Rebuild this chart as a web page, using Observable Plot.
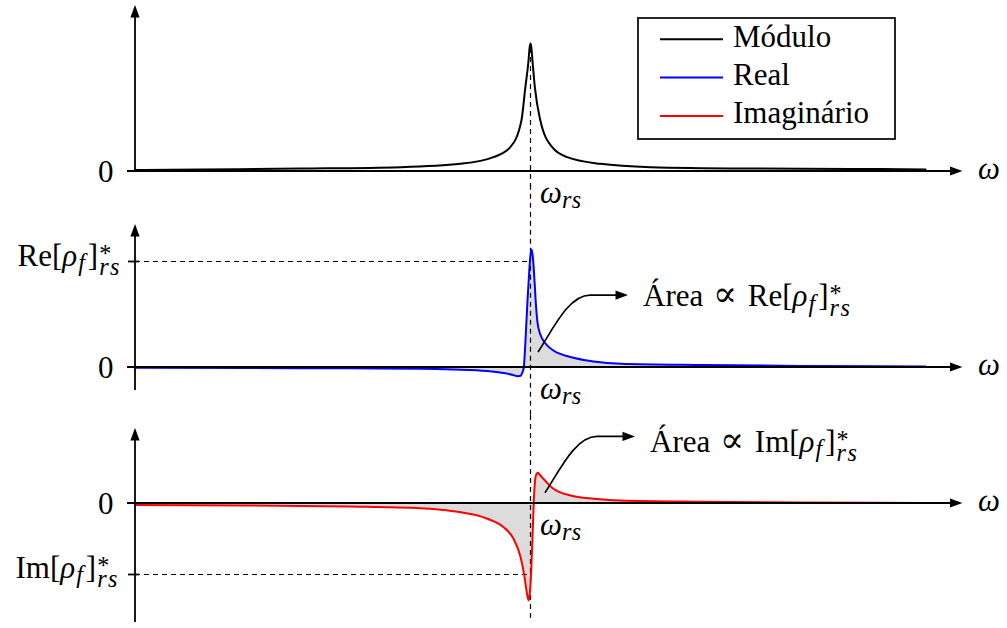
<!DOCTYPE html>
<html>
<head>
<meta charset="utf-8">
<script src="https://cdn.jsdelivr.net/npm/d3@7"></script>
<script src="https://cdn.jsdelivr.net/npm/@observablehq/plot@0.6"></script>
<style>
  html, body { margin: 0; padding: 0; background: #fff; }
  #chart { position: relative; width: 1007px; height: 628px; overflow: hidden; }
  #chart > svg { position: absolute; left: 0; top: 0; }
</style>
</head>
<body>
<div id="chart"></div>
<script>
// ---- data: frequency ω in units of ω_rs (so ω_rs = 1) ----
const omegaMod = [0, 0.165, 0.418, 0.671, 0.823, 0.906, 0.949, 0.977, 0.987, 0.995, 0.9975, 1.0, 1.0025, 1.005, 1.011, 1.025, 1.055, 1.093, 1.177, 1.304, 1.557, 1.810, 2.0];
const modulo   = [0.012, 0.016, 0.023, 0.034, 0.060, 0.112, 0.190, 0.398, 0.659, 0.867, 0.961, 1.0, 0.961, 0.867, 0.659, 0.398, 0.190, 0.112, 0.060, 0.034, 0.023, 0.020, 0.016];

const omegaRe = [0, 0.291, 0.544, 0.722, 0.805, 0.891, 0.932, 0.954, 0.968, 0.975, 0.979, 0.9830, 0.9873, 0.9924, 0.9962, 0.9995, 1.0025, 1.0063, 1.0101, 1.0139, 1.0177, 1.025, 1.038, 1.058, 1.101, 1.160, 1.228, 1.430, 1.684, 2.0];
const real    = [-0.002, -0.005, -0.008, -0.012, -0.019, -0.033, -0.052, -0.069, -0.082, -0.078, -0.052, 0, 0.255, 0.632, 0.868, 1.047, 1.113, 1.028, 0.821, 0.585, 0.425, 0.311, 0.226, 0.160, 0.099, 0.057, 0.035, 0.023, 0.015, 0.010];

const omegaIm = [0, 0.291, 0.544, 0.722, 0.805, 0.891, 0.932, 0.957, 0.975, 0.985, 0.991, 0.9954, 0.9987, 1.0018, 1.0051, 1.0081, 1.0114, 1.0152, 1.0185, 1.0228, 1.033, 1.058, 1.101, 1.160, 1.228, 1.430, 1.684, 2.0];
const imag    = [-0.021, -0.028, -0.042, -0.066, -0.108, -0.215, -0.334, -0.497, -0.756, -1.038, -1.268, -1.366, -1.239, -0.944, -0.479, 0, 0.310, 0.415, 0.432, 0.408, 0.345, 0.207, 0.113, 0.066, 0.042, 0.024, 0.014, 0.007];

const omegaRs = 1;       // resonance frequency ω_rs
const reLevel = 1;       // Re[ρ_f]*_rs
const imLevel = -1;      // Im[ρ_f]*_rs

const legendNames  = ["Módulo", "Real", "Imaginário"];
const legendColors = ["#000000", "#0000ff", "#ff0000"];

// ---- layout ----
const W = 1007, H = 628;
const X0 = 135, XU = 395;                 // pixel of ω = 0, pixels per ω_rs
const P1 = {zero: 171, unit: 128};        // módulo panel
const P2 = {zero: 367, unit: 106};        // real panel
const P3 = {zero: 503, unit: 71};         // imaginary panel
const SERIF = "'Liberation Serif', 'DejaVu Serif', serif";
const FS = 31;
const axisX = [-0.0203, 2.0949];

const toRows = (xs, ys) => xs.map((w, i) => ({w, v: ys[i]}));
const modData = toRows(omegaMod, modulo);
const reData = toRows(omegaRe, real);
const imData = toRows(omegaIm, imag);

// ---- small math-text typesetter (measures with canvas, places tspans) ----
const ctx = document.createElement("canvas").getContext("2d");
function measure(s, size, italic, spacing = 0) {
  ctx.font = `${italic ? "italic " : ""}${size}px ${SERIF}`;
  return ctx.measureText(s).width + spacing * s.length;
}
function typeset(tokens, size) {
  let x = 0, stackX = null;
  const items = [];
  for (const tk of tokens) {
    const fs = (tk.s ? size * 0.78 : size) * (tk.scale ?? 1);
    const ls = tk.ls ?? 0;
    const w = measure(tk.t, fs, tk.f === "it", ls) + (tk.gap ?? 0);
    const dy = tk.s === "sub" ? (tk.low ?? 0.15) * size : tk.s === "sup" ? -0.13 * size : 0;
    if (tk.s === "sup" && stackX != null) {
      items.push({...tk, x: stackX, dy, fs, ls});
      x = Math.max(x, stackX + w);
      stackX = null;
      continue;
    }
    items.push({...tk, x, dy, fs, ls});
    if (tk.stack) stackX = x;
    x += w;
  }
  return {items, width: x};
}
function mathLabel(xv, yv, tokens, {anchor = "start", dx = 0, dy = 0, size = FS} = {}) {
  return (index, {x, y}) => {
    const {items, width} = typeset(tokens, size);
    const x0 = x(xv) + dx - (anchor === "end" ? width : 0);
    const y0 = y(yv) + dy;
    const text = d3.create("svg:text")
      .attr("font-family", SERIF).attr("text-anchor", "start").attr("fill", "black");
    for (const it of items) {
      text.append("tspan")
        .attr("x", x0 + it.x).attr("y", y0 + it.dy)
        .attr("font-size", it.fs)
        .attr("font-style", it.f === "it" ? "italic" : "normal")
        .attr("letter-spacing", it.ls || null)
        .text(it.t);
    }
    return text.node();
  };
}

// filled arrow tip
function tip(g, px, py, angle) {
  g.append("path")
    .attr("d", "M0,0L-12.5,-4.6L-12.5,4.6Z")
    .attr("transform", `translate(${px},${py}) rotate(${angle * 180 / Math.PI})`)
    .attr("fill", "black");
}
// axis line ending in an arrow tip
function arrowAxis(x1, y1, x2, y2) {
  return (index, {x, y}) => {
    const ax = x(x1), ay = y(y1), bx = x(x2), by = y(y2);
    const ang = Math.atan2(by - ay, bx - ax);
    const g = d3.create("svg:g");
    g.append("line")
      .attr("x1", ax).attr("y1", ay)
      .attr("x2", bx - Math.cos(ang) * 10).attr("y2", by - Math.sin(ang) * 10)
      .attr("stroke", "black").attr("stroke-width", 1.8);
    tip(g, bx, by, ang);
    return g.node();
  };
}
// curved leader from the shaded area to its annotation
function leader(from, bendW, to) {
  return (index, {x, y}) => {
    const sx = x(from[0]), sy = y(from[1]);
    const ex = x(bendW), ty = y(to[1]), tx = x(to[0]);
    const g = d3.create("svg:g");
    g.append("path")
      .attr("d", `M${sx},${sy}C${sx + 14},${sy - 21} ${ex - 22},${ty} ${ex},${ty}L${tx - 10},${ty}`)
      .attr("fill", "none").attr("stroke", "black").attr("stroke-width", 1.7);
    tip(g, tx, ty, 0);
    return g.node();
  };
}

const bracketTokens = name => [
  {t: name + "[", f: "rm"}, {t: "ρ", f: "it", gap: 1}, {t: "f", f: "it", s: "sub", low: 0.17, gap: 3},
  {t: "]", f: "rm", gap: 1}, {t: "rs", f: "it", s: "sub", low: 0.3, ls: 1.5, stack: true}, {t: "*", f: "rm", s: "sup"}
];
const reTokens = bracketTokens("Re");
const imTokens = bracketTokens("Im");
const omegaTokens = [{t: "ω", f: "it"}];
const omegaRsTokens = [{t: "ω", f: "it"}, {t: "rs", f: "it", s: "sub", ls: 0.5}];
const propTokens = [{t: "Área ", f: "rm", gap: 2}, {t: "∝", f: "rm", scale: 1.15}, {t: " ", f: "rm", gap: 3}];
const areaRe = [...propTokens, ...reTokens];
const areaIm = [...propTokens, ...imTokens];

function panel(p, marks) {
  return Plot.plot({
    width: W, height: H, margin: 0,
    x: {domain: [-X0 / XU, (W - X0) / XU], range: [0, W], axis: null},
    y: {domain: [(p.zero - H) / p.unit, p.zero / p.unit], range: [H, 0], axis: null},
    style: {background: "transparent", overflow: "visible"},
    marks
  });
}

const dash = "5,4";
const zeroLabel = () => Plot.text([0], {x: 0, y: d => d, text: () => "0", textAnchor: "end", dx: -22, dy: 1,
  fontSize: FS, fontFamily: SERIF, lineAnchor: "middle", fill: "black"});

// Panel 1: módulo
const plot1 = panel(P1, [
  Plot.ruleX([omegaRs], {y1: 0.96, y2: -0.12, stroke: "black", strokeWidth: 1.2, strokeDasharray: dash}),
  Plot.line(modData, {x: "w", y: "v", stroke: legendColors[0], strokeWidth: 2, curve: "monotone-x"}),
  arrowAxis(axisX[0], 0, axisX[1], 0),
  arrowAxis(0, 0, 0, 1.297),
  zeroLabel(),
  mathLabel(axisX[1], 0, omegaTokens, {dx: 15.5, dy: 7.5}),
  mathLabel(omegaRs, 0, omegaRsTokens, {dx: 10, dy: 32})
]);

// Panel 2: real part
const plot2 = panel(P2, [
  Plot.areaY(reData, {x: "w", y: "v", fill: "#dcdcdc", curve: "monotone-x"}),
  Plot.ruleY([reLevel], {x1: 0, x2: omegaRs, stroke: "black", strokeWidth: 1.2, strokeDasharray: dash}),
  Plot.ruleX([omegaRs], {y1: 1.72, y2: -0.45, stroke: "black", strokeWidth: 1.2, strokeDasharray: dash}),
  Plot.line(reData, {x: "w", y: "v", stroke: legendColors[1], strokeWidth: 2, curve: "monotone-x"}),
  arrowAxis(axisX[0], 0, axisX[1], 0),
  arrowAxis(0, -0.217, 0, 1.349),
  Plot.ruleY([reLevel], {x1: -0.0177, x2: 0.0101, stroke: "black", strokeWidth: 1.8}),
  zeroLabel(),
  mathLabel(0, reLevel, reTokens, {anchor: "end", dx: -14, dy: 5}),
  mathLabel(axisX[1], 0, omegaTokens, {dx: 15.5, dy: 7.5}),
  mathLabel(omegaRs, 0, omegaRsTokens, {dx: 10, dy: 32}),
  leader([1.0203, 0.1415], 1.1519, [1.2481, 0.679]),
  mathLabel(1.2861, 0.571, areaRe)
]);

// Panel 3: imaginary part
const plot3 = panel(P3, [
  Plot.areaY(imData, {x: "w", y: "v", fill: "#dcdcdc", curve: "monotone-x"}),
  Plot.ruleY([imLevel], {x1: 0, x2: omegaRs, stroke: "black", strokeWidth: 1.2, strokeDasharray: dash}),
  Plot.ruleX([omegaRs], {y1: 1.24, y2: -1.65, stroke: "black", strokeWidth: 1.2, strokeDasharray: dash}),
  Plot.line(imData, {x: "w", y: "v", stroke: legendColors[2], strokeWidth: 2, curve: "monotone-x"}),
  arrowAxis(axisX[0], 0, axisX[1], 0),
  arrowAxis(0, -1.676, 0, 1.056),
  Plot.ruleY([imLevel], {x1: -0.0177, x2: 0.0101, stroke: "black", strokeWidth: 1.8}),
  zeroLabel(),
  mathLabel(0, imLevel, imTokens, {anchor: "end", dx: -16, dy: 4}),
  mathLabel(axisX[1], 0, omegaTokens, {dx: 15.5, dy: 7.5}),
  mathLabel(omegaRs, 0, omegaRsTokens, {dx: 10, dy: 32}),
  leader([1.038, 0.145], 1.1696, [1.2658, 0.937]),
  mathLabel(1.3038, 0.718, areaIm)
]);

const chart = document.getElementById("chart");
chart.append(plot1, plot2, plot3);

// legend box
const lg = d3.create("svg")
  .attr("width", 260).attr("height", 124)
  .style("left", "637px").style("top", "17px");
lg.append("rect").attr("x", 1).attr("y", 1).attr("width", 257).attr("height", 121)
  .attr("fill", "white").attr("stroke", "black").attr("stroke-width", 1.7);
legendNames.forEach((name, i) => {
  const cy = 22.3 + i * 38.3;
  lg.append("line").attr("x1", 23).attr("x2", 86).attr("y1", cy).attr("y2", cy)
    .attr("stroke", legendColors[i]).attr("stroke-width", 2);
  lg.append("text").attr("x", 96).attr("y", cy + 7.5)
    .attr("font-family", SERIF).attr("font-size", FS).attr("fill", "black").text(name);
});
chart.append(lg.node());
</script>
</body>
</html>
